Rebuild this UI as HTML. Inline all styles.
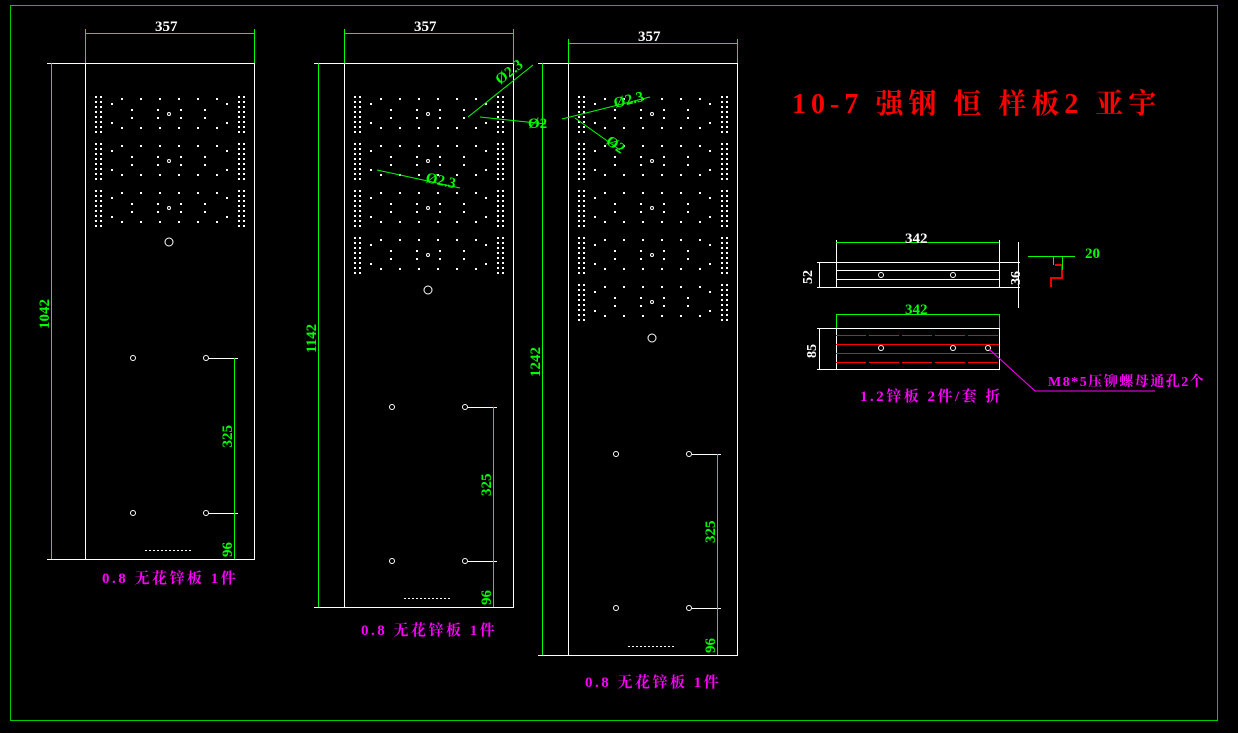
<!DOCTYPE html>
<html><head><meta charset="utf-8"><style>
html,body{margin:0;padding:0;background:#000;width:1238px;height:733px;overflow:hidden}
svg{display:block}
text{font-family:"Liberation Serif","Noto Serif CJK SC",serif;font-weight:bold}
</style></head><body>
<svg id="s" width="1238" height="733" viewBox="0 0 1238 733" xmlns="http://www.w3.org/2000/svg">
<rect x="0" y="0" width="1238" height="733" fill="#000"/>
<rect x="10.5" y="5.5" width="1207" height="715" fill="none" stroke="#0c0" stroke-width="1"/>
<g id="g"></g>
<text x="792" y="113" fill="#f00" font-size="28" letter-spacing="5" font-weight="normal">10-7 强钢 恒 样板2 亚宇</text>

<g stroke="#fff" fill="none" stroke-width="1">
<rect x="836.5" y="262.5" width="163" height="25"/>
<line x1="836" y1="270.5" x2="999" y2="270.5"/><line x1="836" y1="279.5" x2="999" y2="279.5"/>
<line x1="817" y1="262.5" x2="836" y2="262.5"/><line x1="817" y1="287.5" x2="836" y2="287.5"/>
<line x1="999" y1="262.5" x2="1020" y2="262.5"/><line x1="999" y1="287.5" x2="1020" y2="287.5"/>
<line x1="836.5" y1="240" x2="836.5" y2="262"/><line x1="999.5" y1="240" x2="999.5" y2="262"/>
<circle cx="881" cy="275" r="2.5"/><circle cx="953" cy="275" r="2.5"/>
<rect x="836.5" y="328.5" width="163" height="41"/>
<line x1="817" y1="328.5" x2="836" y2="328.5"/><line x1="817" y1="369.5" x2="836" y2="369.5"/>
<circle cx="881" cy="348" r="2.5"/><circle cx="953" cy="348" r="2.5"/><circle cx="988" cy="348" r="2.5"/>
</g>
<g stroke="#f00" stroke-width="1">
<line x1="836" y1="335.5" x2="999" y2="335.5" stroke-dasharray="30 3"/>
<line x1="836" y1="344.5" x2="999" y2="344.5"/>
<line x1="836" y1="353.5" x2="999" y2="353.5"/>
<line x1="836" y1="362.5" x2="999" y2="362.5" stroke-dasharray="30 3"/>
</g>
<polyline points="1051,287 1051,278 1062,278 1062,265 1055,265" fill="none" stroke="#e00" stroke-width="2"/>
<g stroke="#0f0" stroke-width="1">
<line x1="836" y1="242.5" x2="999" y2="242.5"/>
<line x1="836" y1="314.5" x2="999" y2="314.5"/>
<line x1="836.5" y1="314" x2="836.5" y2="328"/><line x1="999.5" y1="314" x2="999.5" y2="328"/>
<line x1="1028" y1="256.5" x2="1075" y2="256.5"/>
<line x1="1053.5" y1="256" x2="1053.5" y2="265"/><line x1="1062.5" y1="256" x2="1062.5" y2="270"/>
</g>
<line x1="1018.5" y1="242" x2="1018.5" y2="308" stroke="#fff"/>
<line x1="819.5" y1="262" x2="819.5" y2="288" stroke="#fff"/>
<line x1="819.5" y1="328" x2="819.5" y2="370" stroke="#fff"/>
<g fill="#fff" font-size="15">
<text x="905" y="243">342</text>
<text x="812" y="284" transform="rotate(-90 812 284)" font-size="14">52</text>
<text x="1020" y="285" transform="rotate(-90 1020 285)" font-size="14">36</text>
<text x="816" y="358" transform="rotate(-90 816 358)" font-size="14">85</text>
</g>
<text x="905" y="314" fill="#0f0" font-size="15">342</text>
<text x="1085" y="258" fill="#0f0" font-size="15">20</text>
<polyline points="989,349 1035,391 1155,391" fill="none" stroke="#f0f" stroke-width="1"/>
<text x="1048" y="386" fill="#f0f" font-size="14" letter-spacing="1.5">M8*5压铆螺母通孔2个</text>
<text x="860" y="401" fill="#f0f" font-size="15" letter-spacing="2.5">1.2锌板 2件/套 折</text>

<g stroke="#0f0" stroke-width="1" fill="none">
<line x1="468" y1="117" x2="533" y2="65"/>
<line x1="480" y1="117" x2="546" y2="124"/>
<line x1="377" y1="170" x2="460" y2="188"/>
<line x1="562" y1="119" x2="650" y2="97"/>
<line x1="575" y1="118" x2="620" y2="150"/>
</g>
<g fill="#0f0" font-size="15">
<text x="500" y="85" transform="rotate(-38 500 85)">Ø2.3</text>
<text x="528" y="128">Ø2</text>
<text x="425" y="182" transform="rotate(12 425 182)">Ø2.3</text>
<text x="615" y="108" transform="rotate(-14 615 108)">Ø2.3</text>
<text x="605" y="143" transform="rotate(35 605 143)">Ø2</text>
</g>
</svg>
<script>
var g=document.getElementById('g'),NS='http://www.w3.org/2000/svg';
function el(t,a){var e=document.createElementNS(NS,t);for(var k in a)e.setAttribute(k,a[k]);g.appendChild(e);return e;}
function ln(x1,y1,x2,y2,c,d){var a={x1:x1,y1:y1,x2:x2,y2:y2,stroke:c||'#fff','stroke-width':1};if(d)a['stroke-dasharray']=d;el('line',a);}
function tx(x,y,s,c,rot,fs,ls){var a={x:x,y:y,fill:c,'font-size':fs||15};if(rot)a.transform='rotate(-90 '+x+' '+y+')';if(ls)a['letter-spacing']=ls;el('text',a).textContent=s;}
function dot(x,y){el('rect',{x:x-1,y:y-1,width:2,height:2,fill:'#fff'});}
function panel(L,T,B,ng,circY,hy1,hy2,dimTopY,dimLeftX,lenTxt,label,labY){
 var R=L+169;
 el('rect',{x:L+.5,y:T+.5,width:169,height:B-T,fill:'none',stroke:'#fff','stroke-width':1});
 ln(L+.5,dimTopY-4,L+.5,T,'#0f0');ln(R+.5,dimTopY-4,R+.5,T,'#0f0');
 ln(L,dimTopY+.5,R,dimTopY+.5,'#0f0');
 tx(L+70,dimTopY-2,'357','#fff');
 ln(dimLeftX-4,T+.5,L,T+.5,'#fff');ln(dimLeftX-4,B+.5,L,B+.5,'#fff');
 ln(dimLeftX+.5,T,dimLeftX+.5,B,'#0f0');
 tx(dimLeftX-2,(T+B)/2+18,lenTxt,'#0f0',1);
 for(var k=0;k<ng;k++){var y0=T+34+k*47;
  for(var r=0;r<8;r++){var y=y0+r*5;dot(L+11,y);dot(L+16,y);dot(R-15,y);dot(R-10,y);}
  for(var i=0;i<6;i++){dot(L+37+i*19,y0+2);dot(L+37+i*19,y0+31);}
  dot(L+27,y0+7);dot(R-27,y0+7);dot(L+27,y0+26);dot(R-27,y0+26);
  [47,73,96,120].forEach(function(o){dot(L+o,y0+13);dot(L+o,y0+21);});
  el('circle',{cx:L+84,cy:y0+17,r:1.5,fill:'none',stroke:'#fff'});
 }
 el('circle',{cx:L+84,cy:circY,r:4,fill:'none',stroke:'#fff'});
 [hy1,hy2].forEach(function(y){el('circle',{cx:L+48,cy:y,r:2.5,fill:'none',stroke:'#fff'});el('circle',{cx:L+121,cy:y,r:2.5,fill:'none',stroke:'#fff'});
  ln(L+124,y+.5,L+153,y+.5,'#fff');});
 ln(L+149.5,hy1,L+149.5,B,'#0f0');
 tx(L+147,(hy1+hy2)/2+12,'325','#0f0',1);
 tx(L+147,B-2,'96','#0f0',1);
 ln(L+60,B-8.5,L+108,B-8.5,'#fff','2 2');
 tx(L+17,labY,label,'#f0f',0,15,2.5);
}
panel(85,63,559,3,242,358,513,33,51,'1042','0.8 无花锌板 1件',583);
panel(344,63,607,4,290,407,561,33,318,'1142','0.8 无花锌板 1件',635);
panel(568,63,655,5,338,454,608,43,542,'1242','0.8 无花锌板 1件',687);
</script>
</body></html>
